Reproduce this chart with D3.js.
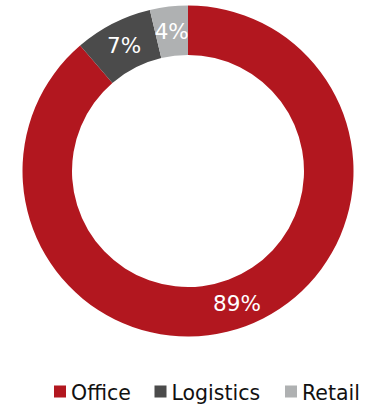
<!DOCTYPE html>
<html><head><meta charset="utf-8">
<script src="https://cdn.jsdelivr.net/npm/d3@7"></script>
<style>html,body{margin:0;padding:0;background:#fff;}svg{display:block;}</style>
</head><body>
<svg id="chart" width="377" height="406"></svg>
<script>
const categories = ["Office", "Logistics", "Retail"];
const values = [88.7, 7.6, 3.7];
const labels = ["89%", "7%", "4%"];
const colors = ["#B2171F", "#4B4B4B", "#AFB1B2"];

const svg = d3.select("#chart");
const cx = 188, cy = 171, rOuter = 165.5, rInner = 116;

const pie = d3.pie().sort(null).value(d => d.v);
const arcs = pie(categories.map((c, i) => ({c, v: values[i], i})));
const arc = d3.arc().innerRadius(rInner).outerRadius(rOuter);

const g = svg.append("g").attr("transform", `translate(${cx},${cy})`);
g.selectAll("path").data(arcs).join("path")
  .attr("d", arc)
  .attr("fill", d => colors[d.data.i]);

g.selectAll("text").data(arcs).join("text")
  .attr("transform", d => `translate(${arc.centroid(d)})`)
  .attr("text-anchor", "middle")
  .attr("dy", "0.36em")
  .attr("fill", "#fff")
  .style("font-family", "DejaVu Sans, Verdana, sans-serif")
  .style("font-size", "21.5px")
  .text(d => labels[d.data.i]);

// legend
const legendX = [54, 154.5, 285];
const lg = svg.append("g");
categories.forEach((c, i) => {
  lg.append("rect").attr("x", legendX[i]).attr("y", 385.5).attr("width", 12).attr("height", 12).attr("fill", colors[i]);
  lg.append("text").attr("x", legendX[i] + 17).attr("y", 399.5)
    .attr("fill", "#111")
    .style("font-family", "DejaVu Sans, Verdana, sans-serif")
    .style("font-size", "20.5px")
    .text(c);
});
</script>
</body></html>
